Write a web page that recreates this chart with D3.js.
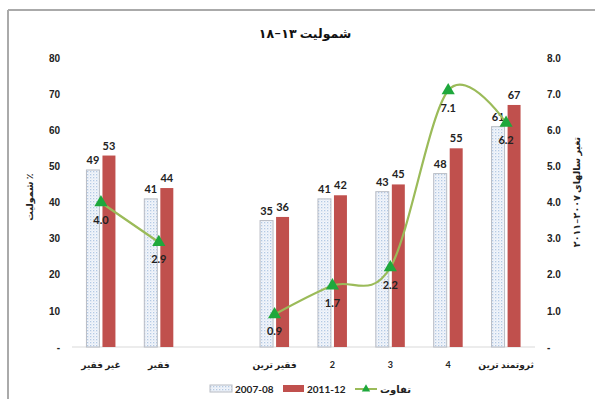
<!DOCTYPE html>
<html lang="fa">
<head>
  <meta charset="UTF-8" />
  <title>شمولیت</title>
  <style>
    body { margin: 0; background: #fff; }
    svg { display: block; font-family: Lato, "DejaVu Sans", sans-serif; }
    .tick text { font-size: 10px; font-weight: bold; fill: #222; }
    .cat { font-size: 9px; font-weight: bold; fill: #222; }
    .val { font-size: 11px; font-weight: bold; fill: #222; }
  </style>
</head>
<body>
  <script src="https://cdn.jsdelivr.net/npm/d3@7"></script>
  <script>
    // chart values
    const categories = ["غیر فقیر", "فقیر", "", "فقیر ترین", "2", "3", "4", "ثروتمند ترین"];
    const series = ["2007-08", "2011-12"];
    const values0708 = [49, 41, null, 35, 41, 43, 48, 61];
    const values1112 = [53, 44, null, 36, 42, 45, 55, 67];
    const diffs = [4.0, 2.9, null, 0.9, 1.7, 2.2, 7.1, 6.2];
    const leftTicks = [0, 10, 20, 30, 40, 50, 60, 70, 80];
    const rightTicks = [0, 1, 2, 3, 4, 5, 6, 7, 8];

    const width = 595, height = 399;
    const red = "#c0504d", lineCol = "#9bbb59", markCol = "#1ea83c";

    const svg = d3.select("body").append("svg")
      .attr("width", width)
      .attr("height", height);

    // dotted fill for the 2007-08 bars
    const defs = svg.append("defs");
    const pat = defs.append("pattern")
      .attr("id", "dots")
      .attr("patternUnits", "userSpaceOnUse")
      .attr("width", 3).attr("height", 3);
    pat.append("rect").attr("width", 3).attr("height", 3).attr("fill", "#f3f6fb");
    pat.append("rect").attr("width", 1.3).attr("height", 1.3).attr("fill", "#b3c9e4");
    pat.append("rect").attr("x", 1.5).attr("y", 1.5).attr("width", 1).attr("height", 1).attr("fill", "#d5e1ef");

    // frame (top + left only are visible)
    svg.append("line").attr("x1", 8).attr("x2", width).attr("y1", 10).attr("y2", 10)
      .attr("stroke", "#aaa").attr("stroke-width", 2);
    svg.append("line").attr("x1", 8).attr("x2", 8).attr("y1", 10).attr("y2", height)
      .attr("stroke", "#aaa").attr("stroke-width", 2);

    const x = d3.scaleBand().domain(d3.range(categories.length)).range([72, 535]);
    const xSub = d3.scaleBand().domain(series).range([-14.5, 14.5]).paddingInner(0.19);
    const y = d3.scaleLinear().domain([0, 80]).range([347, 58]);
    const y2 = d3.scaleLinear().domain([0, 8]).range([347, 58]);
    const cx = i => x(i) + x.bandwidth() / 2;

    // title
    svg.append("text")
      .attr("x", 305).attr("y", 38)
      .attr("text-anchor", "middle")
      .attr("direction", "rtl")
      .style("font-size", "12.5px").style("font-weight", "bold").attr("fill", "#111")
      .text("شمولیت ۱۳–۱۸");

    // axes
    const yAxis = d3.axisLeft(y).tickValues(leftTicks).tickSize(0).tickPadding(0)
      .tickFormat(d => d === 0 ? "-" : d);
    svg.append("g").attr("transform", "translate(60,0)").call(yAxis)
      .call(g => g.select(".domain").remove());

    const yAxis2 = d3.axisRight(y2).tickValues(rightTicks).tickSize(0).tickPadding(0)
      .tickFormat(d => d === 0 ? "-" : d3.format(".1f")(d));
    svg.append("g").attr("transform", "translate(547,0)").call(yAxis2)
      .call(g => g.select(".domain").remove());

    svg.append("line")
      .attr("x1", 72).attr("x2", 535).attr("y1", y(0)).attr("y2", y(0))
      .attr("stroke", "#d9d9d9");

    // axis titles
    svg.append("text")
      .attr("transform", "translate(33,197) rotate(-90)")
      .attr("text-anchor", "middle").attr("direction", "rtl")
      .style("font-size", "9.5px").style("font-weight", "bold").attr("fill", "#222")
      .text("٪ شمولیت");
    svg.append("text")
      .attr("transform", "translate(580,192) rotate(-90)")
      .attr("text-anchor", "middle").attr("direction", "rtl")
      .style("font-size", "9.5px").style("font-weight", "bold").attr("fill", "#222")
      .text("تغیر سالهای ۲۰۰۷–۲۰۱۱");

    // category labels
    svg.append("g").selectAll("text")
      .data(categories)
      .join("text")
      .attr("class", "cat")
      .attr("x", (d, i) => cx(i))
      .attr("y", 368)
      .attr("text-anchor", "middle")
      .attr("direction", "rtl")
      .text(d => d);

    // bars
    const rows = categories.map((c, i) => ({ i, a: values0708[i], b: values1112[i] }))
      .filter(d => d.a != null);

    const g = svg.append("g");
    g.selectAll("rect.a").data(rows).join("rect")
      .attr("class", "a")
      .attr("x", d => cx(d.i) + xSub(series[0]))
      .attr("y", d => y(d.a))
      .attr("width", xSub.bandwidth())
      .attr("height", d => y(0) - y(d.a))
      .attr("fill", "url(#dots)")
      .attr("stroke", "#b8bcc4").attr("stroke-width", 1);
    g.selectAll("rect.b").data(rows).join("rect")
      .attr("class", "b")
      .attr("x", d => cx(d.i) + xSub(series[1]))
      .attr("y", d => y(d.b))
      .attr("width", xSub.bandwidth())
      .attr("height", d => y(0) - y(d.b))
      .attr("fill", red);

    g.selectAll("text.la").data(rows).join("text")
      .attr("class", "val la")
      .attr("x", d => cx(d.i) + xSub(series[0]) + xSub.bandwidth() / 2)
      .attr("y", d => y(d.a) - 6)
      .attr("text-anchor", "middle")
      .text(d => d.a);
    g.selectAll("text.lb").data(rows).join("text")
      .attr("class", "val lb")
      .attr("x", d => cx(d.i) + xSub(series[1]) + xSub.bandwidth() / 2)
      .attr("y", d => y(d.b) - 6)
      .attr("text-anchor", "middle")
      .text(d => d.b);

    // difference line (right axis)
    const pts = diffs.map((v, i) => ({ i, v }));
    const line = d3.line()
      .defined(d => d.v != null)
      .x(d => cx(d.i))
      .y(d => y2(d.v))
      .curve(d3.curveCardinal.tension(0));
    svg.append("path")
      .datum(pts)
      .attr("d", line)
      .attr("fill", "none")
      .attr("stroke", lineCol)
      .attr("stroke-width", 2.2);

    const tri = d3.symbol().type(d3.symbolTriangle).size(75);
    const dp = pts.filter(d => d.v != null);
    svg.append("g").selectAll("path").data(dp).join("path")
      .attr("d", tri)
      .attr("transform", d => `translate(${cx(d.i)},${y2(d.v)})`)
      .attr("fill", markCol);
    svg.append("g").selectAll("text").data(dp).join("text")
      .attr("class", "val")
      .attr("x", d => cx(d.i))
      .attr("y", d => y2(d.v) + 21)
      .attr("text-anchor", "middle")
      .text(d => d3.format(".1f")(d.v));

    // legend
    const leg = svg.append("g").attr("transform", "translate(0,389)");
    leg.append("rect").attr("x", 210).attr("y", -4).attr("width", 22).attr("height", 7)
      .attr("fill", "url(#dots)").attr("stroke", "#b8bcc4");
    leg.append("text").attr("class", "val").style("font-size", "10px")
      .attr("x", 235).attr("y", 4).text(series[0]);
    leg.append("rect").attr("x", 283).attr("y", -4).attr("width", 21).attr("height", 7)
      .attr("fill", red);
    leg.append("text").attr("class", "val").style("font-size", "10px")
      .attr("x", 307).attr("y", 4).text(series[1]);
    leg.append("line").attr("x1", 355).attr("x2", 377).attr("y1", 0).attr("y2", 0)
      .attr("stroke", lineCol).attr("stroke-width", 2);
    leg.append("path").attr("d", d3.symbol().type(d3.symbolTriangle).size(30))
      .attr("transform", "translate(366,0)").attr("fill", markCol);
    leg.append("text").attr("class", "val").style("font-size", "10px")
      .attr("x", 380).attr("y", 4).text("تفاوت");
  </script>
</body>
</html>
